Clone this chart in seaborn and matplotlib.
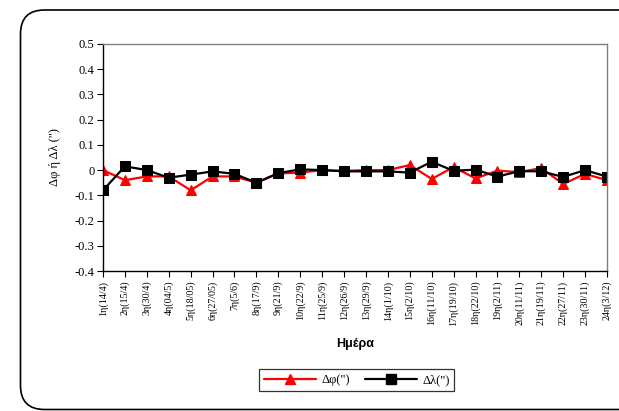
import numpy as np
import pandas as pd
import matplotlib
matplotlib.use('Agg')
import matplotlib.pyplot as plt
import seaborn as sns
from matplotlib.patches import FancyBboxPatch
from matplotlib.lines import Line2D

# ── Data ───────────────────────────────────────────────────────────────
days = ['1η(14/4)', '2η(15/4)', '3η(30/4)', '4η(04/5)', '5η(18/05)', '6η(27/05)',
        '7η(5/6)', '8η(17/9)', '9η(21/9)', '10η(22/9)', '11η(25/9)', '12η(26/9)',
        '13η(29/9)', '14η(1/10)', '15η(2/10)', '16η(11/10)', '17η(19/10)', '18η(22/10)',
        '19η(2/11)', '20η(11/11)', '21η(19/11)', '22η(27/11)', '23η(30/11)', '24η(3/12)']
dphi = [0.0, -0.04, -0.025, -0.025, -0.08, -0.025, -0.025, -0.05, -0.013, -0.01, 0.0, -0.003,
        0.0, 0.0, 0.02, -0.035, 0.012, -0.033, -0.002, -0.008, 0.008, -0.055, -0.015, -0.04]
dlam = [-0.08, 0.015, 0.0, -0.03, -0.018, -0.005, -0.015, -0.05, -0.012, 0.003, 0.0, -0.005,
        -0.005, -0.005, -0.01, 0.033, -0.003, 0.002, -0.026, -0.004, -0.005, -0.027, 0.0, -0.026]

df = pd.DataFrame({'pos': np.arange(len(days)), 'dphi': dphi, 'dlam': dlam})

sns.set_theme(style='white')
plt.rcParams['font.family'] = ['Liberation Serif', 'DejaVu Serif']
plt.rcParams.update({'text.color': 'black', 'axes.labelcolor': 'black',
                     'xtick.color': 'black', 'ytick.color': 'black'})

fig = plt.figure(figsize=(6.19, 4.11), dpi=100)
ax = fig.add_axes([0.1664, 0.3406, 0.8142, 0.5524])

sns.lineplot(data=df, x='pos', y='dphi', ax=ax, color='#ff0000', marker='^',
             markersize=7, markeredgecolor='#ff0000', linewidth=1.6)
sns.lineplot(data=df, x='pos', y='dlam', ax=ax, color='black', marker='s',
             markersize=6.5, markeredgecolor='black', linewidth=1.6)

ax.set_xlim(0, len(days) - 1)
ax.set_ylim(-0.4, 0.5)
ax.set_yticks(np.arange(-0.4, 0.51, 0.1))
ax.set_yticklabels(['-0.4', '-0.3', '-0.2', '-0.1', '0', '0.1', '0.2', '0.3', '0.4', '0.5'])
ax.set_xticks(df['pos'])
ax.set_xticklabels(days, rotation=90, fontsize=7.2)
ax.tick_params(axis='y', labelsize=9, direction='out', length=4, width=0.8, left=True, pad=2)
ax.tick_params(axis='x', direction='out', length=4, width=0.8, bottom=True, pad=3)

for s in ['left', 'bottom']:
    ax.spines[s].set_color('black')
    ax.spines[s].set_linewidth(1.0)
for s in ['top', 'right']:
    ax.spines[s].set_color('#808080')
    ax.spines[s].set_linewidth(1.0)

ax.set_xlabel('Ημέρα', fontsize=9, fontweight='bold', family='Liberation Sans', labelpad=9)
ax.set_ylabel('Δφ ή Δλ (")', fontsize=9, labelpad=10)

handles = [Line2D([], [], color='#ff0000', marker='^', markersize=7, linewidth=1.6),
           Line2D([], [], color='black', marker='s', markersize=6.5, linewidth=1.6)]
leg = fig.legend(handles, ['Δφ(")', 'Δλ(")'], loc='center', bbox_to_anchor=(0.576, 0.075),
                 ncol=2, fontsize=9, frameon=True, fancybox=False, handlelength=4.2,
                 columnspacing=1.2, handletextpad=0.4, borderpad=0.4)
leg.get_frame().set_edgecolor('black')
leg.get_frame().set_linewidth(0.9)

# rounded outer frame (pixel coordinates)
frame = FancyBboxPatch((20.5, 1.5), 640, 399.5, boxstyle='round,pad=0,rounding_size=24',
                       transform=None, facecolor='none', edgecolor='black', linewidth=1.2)
fig.patches.append(frame)

fig.savefig('out.png', dpi=100)
